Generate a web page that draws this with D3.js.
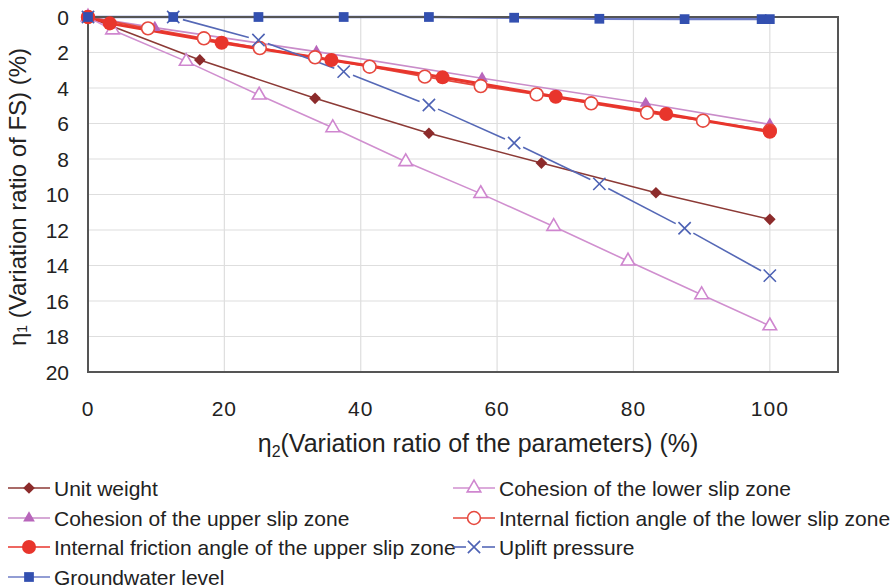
<!DOCTYPE html>
<html>
<head>
<meta charset="utf-8">
<script src="https://cdn.jsdelivr.net/npm/d3@7"></script>
<style>
  body { margin: 0; background: #fff; }
  svg { font-family: "Liberation Sans", Arial, sans-serif; }
</style>
</head>
<body>
<div id="chart"></div>
<script>
// axis ticks
const xTicks = [0, 20, 40, 60, 80, 100];
const yTicks = [0, 2, 4, 6, 8, 10, 12, 14, 16, 18, 20];

// series values (eta2 -> eta1)
const unitWeightX = [0, 16.4, 33.3, 50, 66.5, 83.3, 100];
const unitWeightY = [0, 2.42, 4.58, 6.55, 8.23, 9.9, 11.4];

const cohesionLowerX = [0, 3.6, 14.4, 25.1, 35.9, 46.6, 57.6, 68.3, 79.2, 90, 100];
const cohesionLowerY = [0, 0.73, 2.5, 4.4, 6.24, 8.15, 9.95, 11.8, 13.75, 15.65, 17.4];

const cohesionUpperX = [0, 9.8, 33.5, 57.8, 81.8, 100];
const cohesionUpperY = [0, 0.6, 1.95, 3.45, 4.87, 6.05];

const frictionLowerX = [0, 8.8, 17, 25.2, 33.3, 41.3, 49.4, 57.6, 65.8, 73.8, 82, 90.2, 100];
const frictionLowerY = [0, 0.64, 1.2, 1.75, 2.27, 2.8, 3.36, 3.89, 4.36, 4.86, 5.39, 5.84, 6.4];

const frictionUpperX = [0, 3.2, 19.6, 35.7, 52, 68.6, 84.8, 100];
const frictionUpperY = [0, 0.36, 1.45, 2.42, 3.4, 4.49, 5.46, 6.46];

const upliftX = [0, 12.5, 25, 37.5, 50, 62.5, 75, 87.5, 100];
const upliftY = [0, 0, 1.3, 3.08, 4.96, 7.1, 9.4, 11.9, 14.57];

const groundwaterX = [0, 12.5, 25, 37.5, 50, 62.5, 75, 87.5, 98.8, 100];
const groundwaterY = [0, 0, 0, 0, 0, 0.04, 0.1, 0.12, 0.12, 0.12];

const series = [
    { name: "Unit weight", x: unitWeightX, y: unitWeightY, color: "#8c2b2b", line: "#8c3a36", lw: 1.6, symbol: "diamond", open: false, col: 0, row: 0 },
    { name: "Cohesion of the lower slip zone", x: cohesionLowerX, y: cohesionLowerY, color: "#cf86cf", line: "#d08fcf", lw: 1.6, symbol: "triangle", open: true, col: 1, row: 0 },
    { name: "Cohesion of the upper slip zone", x: cohesionUpperX, y: cohesionUpperY, color: "#b866bb", line: "#c98cc9", lw: 1.6, symbol: "triangleFill", open: false, col: 0, row: 1 },
    { name: "Internal fiction angle of the lower slip zone", x: frictionLowerX, y: frictionLowerY, color: "#e6483e", line: "#e6483e", lw: 1.8, symbol: "circle", open: true, col: 1, row: 1 },
    { name: "Internal friction angle of the upper slip zone", x: frictionUpperX, y: frictionUpperY, color: "#e8352c", line: "#e8352c", lw: 3, symbol: "circleFill", open: false, col: 0, row: 2 },
    { name: "Uplift pressure", x: upliftX, y: upliftY, color: "#4d62b4", line: "#5568b6", lw: 1.6, symbol: "x", open: true, col: 1, row: 2, gap: true },
    { name: "Groundwater level", x: groundwaterX, y: groundwaterY, color: "#3350b0", line: "#6e7cc6", lw: 2.4, symbol: "square", open: false, col: 0, row: 3 }
];

const width = 891;
const height = 588;
const margin = { left: 88, right: 53, top: 17, bottom: 216 };

const svg = d3.select("#chart").append("svg")
    .attr("width", width)
    .attr("height", height);

const xScale = d3.scaleLinear()
    .domain([0, 110])
    .range([margin.left, width - margin.right]);

const yScale = d3.scaleLinear()
    .domain([0, 20])
    .range([margin.top, height - margin.bottom]);

const symbolPath = (name) => {
    if (name === "diamond") return d3.symbol(d3.symbolSquare, 68)();
    if (name === "triangle") return d3.symbol(d3.symbolTriangle, 80)();
    if (name === "triangleFill") return d3.symbol(d3.symbolTriangle, 60)();
    if (name === "circle") return d3.symbol(d3.symbolCircle, 130)();
    if (name === "circleFill") return d3.symbol(d3.symbolCircle, 155)();
    if (name === "x") return d3.symbol(d3.symbolX, 100)();
    return d3.symbol(d3.symbolSquare, 95)();
};

const drawMarker = (g, s, cx, cy) => {
    const m = g.append("path")
        .attr("d", symbolPath(s.symbol))
        .attr("transform", "translate(" + cx + "," + cy + ")" + (s.symbol === "diamond" ? " rotate(45)" : ""));
    if (s.symbol === "x") {
        m.attr("fill", "none").attr("stroke", s.color).attr("stroke-width", 1.6);
    } else if (s.open) {
        m.attr("fill", "#fff").attr("stroke", s.color).attr("stroke-width", 1.6);
    } else {
        m.attr("fill", s.color);
    }
};

// grid
svg.append("g")
    .attr("class", "grid")
    .selectAll("line.h")
    .data(yTicks.slice(1, -1))
    .enter().append("line")
    .attr("x1", xScale(0)).attr("x2", xScale(110))
    .attr("y1", d => yScale(d)).attr("y2", d => yScale(d))
    .attr("stroke", "#dedede").attr("stroke-width", 1.2);

svg.select(".grid")
    .selectAll("line.v")
    .data(xTicks.slice(1))
    .enter().append("line")
    .attr("x1", d => xScale(d)).attr("x2", d => xScale(d))
    .attr("y1", yScale(0)).attr("y2", yScale(20))
    .attr("stroke", "#dedede").attr("stroke-width", 1.2);

// series lines
const line = d3.line().x(d => xScale(d[0])).y(d => yScale(d[1]));

series.forEach(s => {
    const pts = s.x.map((v, i) => [v, s.y[i]]);
    if (s.gap) {
        // excel style: line broken around each marker
        for (let i = 0; i < pts.length - 1; i++) {
            const x1 = xScale(pts[i][0]), y1 = yScale(pts[i][1]);
            const x2 = xScale(pts[i + 1][0]), y2 = yScale(pts[i + 1][1]);
            const len = Math.hypot(x2 - x1, y2 - y1);
            const ux = (x2 - x1) / len, uy = (y2 - y1) / len;
            svg.append("line")
                .attr("x1", x1 + ux * 10).attr("y1", y1 + uy * 10)
                .attr("x2", x2 - ux * 10).attr("y2", y2 - uy * 10)
                .attr("stroke", s.line).attr("stroke-width", s.lw);
        }
    } else {
        svg.append("path")
            .datum(pts)
            .attr("d", line)
            .attr("fill", "none")
            .attr("stroke", s.line)
            .attr("stroke-width", s.lw);
    }
});

// frame
svg.append("rect")
    .attr("x", xScale(0)).attr("y", yScale(0))
    .attr("width", xScale(110) - xScale(0))
    .attr("height", yScale(20) - yScale(0))
    .attr("fill", "none")
    .attr("stroke", "#555")
    .attr("stroke-width", 2);

// markers
series.forEach(s => {
    const g = svg.append("g");
    s.x.forEach((v, i) => drawMarker(g, s, xScale(v), yScale(s.y[i])));
});

// tick labels
svg.append("g")
    .selectAll("text")
    .data(yTicks)
    .enter().append("text")
    .attr("x", 69)
    .attr("y", d => yScale(d))
    .attr("dy", "0.36em")
    .style("text-anchor", "end")
    .style("font-size", "21px")
    .attr("fill", "#222")
    .text(d => d);

svg.append("g")
    .selectAll("text")
    .data(xTicks)
    .enter().append("text")
    .attr("x", d => xScale(d))
    .attr("y", 408)
    .attr("dy", "0.36em")
    .style("text-anchor", "middle")
    .style("font-size", "21px")
    .style("letter-spacing", "1px")
    .attr("fill", "#222")
    .text(d => d);

// axis titles
const xt = svg.append("text")
    .attr("x", 478)
    .attr("y", 452)
    .style("text-anchor", "middle")
    .style("font-size", "25px")
    .attr("fill", "#222");
xt.append("tspan").text("η");
xt.append("tspan").attr("dy", 5).style("font-size", "16px").text("2");
xt.append("tspan").attr("dy", -5).text("(Variation ratio of the parameters) (%)");

const yt = svg.append("text")
    .attr("transform", "translate(26," + 197 + ") rotate(-90)")
    .style("text-anchor", "middle")
    .style("font-size", "24px")
    .attr("fill", "#222");
yt.append("tspan").text("η");
yt.append("tspan").attr("dy", 1).style("font-size", "14px").text("1");
yt.append("tspan").attr("dy", -1).text(" (Variation ratio of FS) (%)");

// legend
const legendX = [8, 453];
const legendY = [488, 518, 547, 577];

series.forEach(s => {
    const g = svg.append("g");
    const x0 = legendX[s.col];
    const y0 = legendY[s.row];
    if (s.gap) {
        g.append("line").attr("x1", x0).attr("x2", x0 + 13).attr("y1", y0).attr("y2", y0)
            .attr("stroke", s.line).attr("stroke-width", 1.6);
        g.append("line").attr("x1", x0 + 29).attr("x2", x0 + 42).attr("y1", y0).attr("y2", y0)
            .attr("stroke", s.line).attr("stroke-width", 1.6);
    } else {
        g.append("line").attr("x1", x0).attr("x2", x0 + 42).attr("y1", y0).attr("y2", y0)
            .attr("stroke", s.line).attr("stroke-width", 1.6);
    }
    drawMarker(g, s, x0 + 21, y0);
    g.append("text")
        .attr("x", x0 + 46)
        .attr("y", y0)
        .attr("dy", "0.36em")
        .style("font-size", "21px")
        .attr("fill", "#222")
        .text(s.name);
});
</script>
</body>
</html>
